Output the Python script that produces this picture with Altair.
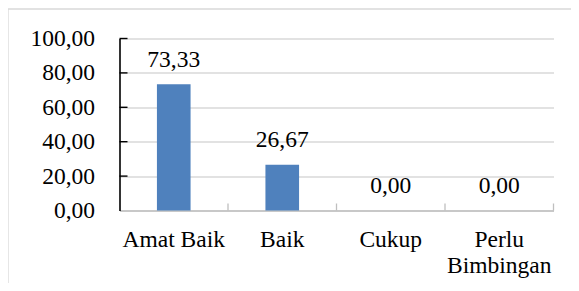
import altair as alt
import pandas as pd

categories = ["Amat Baik", "Baik", "Cukup", "Perlu Bimbingan"]
values = [73.33, 26.67, 0.00, 0.00]
y_ticks = [0, 20, 40, 60, 80, 100]

df = pd.DataFrame({"kategori": categories, "nilai": values})
ticks_df = pd.DataFrame({"t": y_ticks[1:]})
cat_df = pd.DataFrame({"kategori": categories})
frame_df = pd.DataFrame({"k": [0]})

W, H = 434, 172
FONT = "Times New Roman, Liberation Serif, serif"
FS = 23.5

xscale = alt.Scale(domain=categories, paddingInner=0, paddingOuter=0)
yscale = alt.Scale(domain=[0, 100], nice=False)

fmt = "replace(format(datum.value, '.2f'), '.', ',')"

x_axis = alt.Axis(
    title=None, labelAngle=0, ticks=False, grid=False,
    domainColor="#BFBFBF", domainWidth=1.3,
    labelPadding=17, labelBaseline="top", labelLineHeight=26,
    labelFont=FONT, labelFontSize=FS, labelColor="black",
    labelExpr="datum.value == 'Perlu Bimbingan' ? ['Perlu', 'Bimbingan'] : datum.value",
)
y_axis = alt.Axis(
    title=None, values=y_ticks, labelExpr=fmt, ticks=False,
    grid=True, gridColor="#D9D9D9", gridWidth=1.3,
    domainColor="black", domainWidth=1.6,
    labelPadding=25, labelFont=FONT, labelFontSize=FS, labelColor="black",
)

X = alt.X("kategori:N", sort=categories, scale=xscale, axis=x_axis)

frame = alt.Chart(frame_df).mark_rect(
    fill=None, stroke="#D9D9D9", strokeWidth=1.3
).encode(
    x=alt.value(-111.5), x2=alt.value(480),
    y=alt.value(-29.5), y2=alt.value(300),
)

bars = alt.Chart(df).mark_bar(
    width=alt.RelativeBandSize(0.31), color="#4F81BD"
).encode(
    x=X,
    y=alt.Y("nilai:Q", scale=yscale, axis=y_axis),
)

labels = alt.Chart(df).transform_calculate(
    lab="replace(format(datum.nilai, '.2f'), '.', ',')"
).mark_text(
    font=FONT, fontSize=FS, color="black", baseline="alphabetic", dy=-17.5
).encode(
    x=X,
    y=alt.Y("nilai:Q", scale=yscale, axis=y_axis),
    text="lab:N",
)

yticks = alt.Chart(ticks_df).mark_rule(color="black", strokeWidth=1.4).encode(
    y=alt.Y("t:Q", scale=yscale, axis=y_axis),
    x=alt.value(0), x2=alt.value(8),
)

xticks = alt.Chart(cat_df).mark_rule(color="#BFBFBF", strokeWidth=1.3).encode(
    x=alt.X("kategori:N", sort=categories, scale=xscale, axis=x_axis, bandPosition=1),
    y=alt.value(H - 7), y2=alt.value(H),
)

chart = alt.layer(frame, bars, labels, yticks, xticks).properties(
    width=W, height=H,
    autosize=alt.AutoSizeParams(type="none"),
    padding={"left": 111.5, "top": 30.5, "right": 17, "bottom": 72},
).configure_view(stroke=None)

chart.save("out.html", embed_options={"renderer": "svg", "actions": False})
